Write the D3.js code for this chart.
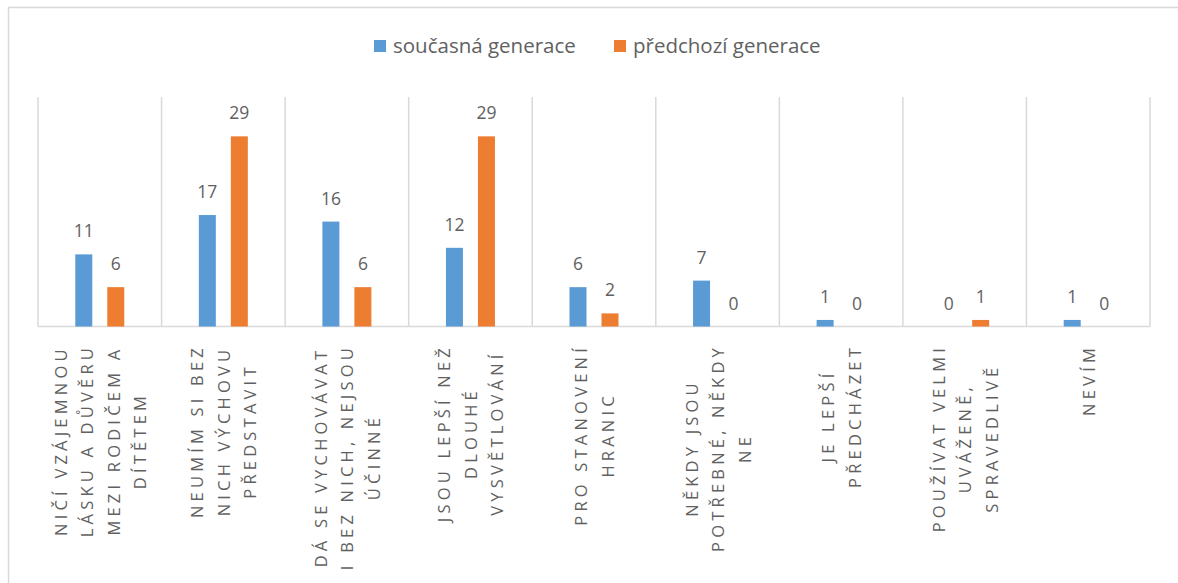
<!DOCTYPE html>
<html>
<head>
<meta charset="utf-8">
<script src="https://cdn.jsdelivr.net/npm/d3@7"></script>
<style>
  body { margin: 0; background: #fff; }
  svg { display: block; }
</style>
</head>
<body>
<div id="container"></div>
<script>
/* DATA */
const categories = ["c1", "c2", "c3", "c4", "c5", "c6", "c7", "c8", "c9"];
const categoryLines = [
  ["NIČÍ VZÁJEMNOU", "LÁSKU A DŮVĚRU", "MEZI RODIČEM A", "DÍTĚTEM"],
  ["NEUMÍM SI BEZ", "NICH VÝCHOVU", "PŘEDSTAVIT"],
  ["DÁ SE VYCHOVÁVAT", "I BEZ NICH, NEJSOU", "ÚČINNÉ"],
  ["JSOU LEPŠÍ NEŽ", "DLOUHÉ", "VYSVĚTLOVÁNÍ"],
  ["PRO STANOVENÍ", "HRANIC"],
  ["NĚKDY JSOU", "POTŘEBNÉ, NĚKDY", "NE"],
  ["JE LEPŠÍ", "PŘEDCHÁZET"],
  ["POUŽÍVAT VELMI", "UVÁŽENĚ,", "SPRAVEDLIVĚ"],
  ["NEVÍM"]
];
const seriesNames = ["současná generace", "předchozí generace"];
const currentGen = [11, 17, 16, 12, 6, 7, 1, 0, 1];
const previousGen = [6, 29, 6, 29, 2, 0, 0, 1, 0];
const seriesColors = ["#5B9BD5", "#ED7D31"];

/* CONSTANTS */
const width = 1178,
  height = 583,
  plot = { left: 38, right: 1150, top: 97, bottom: 326.5 },
  textColor = "#616161",
  gridColor = "#d9d9d9",
  font = "'Open Sans', 'Noto Sans', sans-serif";

const svg = d3.select("#container")
  .append("svg")
  .attr("width", width)
  .attr("height", height)
  .style("background-color", "#fff");

// outer chart border (runs off the right and bottom edge)
svg.append("rect")
  .attr("x", 8.5).attr("y", 7.5)
  .attr("width", 1300).attr("height", 700)
  .attr("fill", "none")
  .attr("stroke", gridColor)
  .attr("stroke-width", 1.5);

/* SCALES */
const xScale = d3.scaleBand()
  .domain(categories)
  .range([plot.left, plot.right])
  .padding(0);

const bw = xScale.bandwidth();
const xSub = d3.scaleBand()
  .domain(seriesNames)
  .range([bw / 2 - 24.5, bw / 2 + 24.5])
  .paddingInner(0.469)
  .paddingOuter(0);

const yScale = d3.scaleLinear()
  .domain([0, 35])
  .range([plot.bottom, plot.top]);

const colorScale = d3.scaleOrdinal()
  .domain(seriesNames)
  .range(seriesColors);

/* GRID */
const bounds = categories.map(c => xScale(c)).concat([plot.right]);
svg.append("g")
  .selectAll("line")
  .data(bounds)
  .join("line")
  .attr("x1", d => d).attr("x2", d => d)
  .attr("y1", plot.top).attr("y2", plot.bottom)
  .attr("stroke", gridColor)
  .attr("stroke-width", 1.5);

svg.append("line")
  .attr("x1", plot.left).attr("x2", plot.right)
  .attr("y1", plot.bottom).attr("y2", plot.bottom)
  .attr("stroke", gridColor)
  .attr("stroke-width", 1.5);

/* BARS */
const rows = [];
categories.forEach((c, i) => {
  rows.push({ cat: c, series: seriesNames[0], value: currentGen[i] });
  rows.push({ cat: c, series: seriesNames[1], value: previousGen[i] });
});

svg.append("g")
  .selectAll("rect")
  .data(rows)
  .join("rect")
  .attr("x", d => xScale(d.cat) + xSub(d.series))
  .attr("y", d => yScale(d.value))
  .attr("width", xSub.bandwidth())
  .attr("height", d => yScale(0) - yScale(d.value))
  .attr("fill", d => colorScale(d.series));

svg.append("g")
  .selectAll("text")
  .data(rows)
  .join("text")
  .attr("x", d => xScale(d.cat) + xSub(d.series) + xSub.bandwidth() / 2)
  .attr("y", d => yScale(d.value) - 17)
  .attr("text-anchor", "middle")
  .attr("font-family", font)
  .attr("font-size", 17.5)
  .attr("fill", textColor)
  .text(d => d.value);

/* CATEGORY LABELS */
const lineGap = 26.5;
const labelTop = 344;
const labels = svg.append("g")
  .selectAll("g")
  .data(categories)
  .join("g")
  .attr("transform", d => `translate(${xScale(d) + bw / 2},${labelTop}) rotate(-90)`);

labels.each(function (d, i) {
  const g = d3.select(this);
  const lines = categoryLines[i];
  const n = lines.length;
  const texts = g.selectAll("text")
    .data(lines)
    .join("text")
    .attr("y", (l, j) => (j - (n - 1) / 2) * lineGap)
    .attr("dominant-baseline", "central")
    .attr("text-anchor", "middle")
    .attr("font-family", font)
    .attr("font-size", 16.5)
    .attr("letter-spacing", "4.2px")
    .attr("fill", textColor)
    .text(l => l);
  const longest = d3.max(texts.nodes(), t => t.getComputedTextLength());
  texts.attr("x", -longest / 2);
});

/* LEGEND */
const legendItems = [
  { name: seriesNames[0], sx: 374, tx: 393 },
  { name: seriesNames[1], sx: 614, tx: 633 }
];
const legend = svg.append("g");
legend.selectAll("rect")
  .data(legendItems)
  .join("rect")
  .attr("x", d => d.sx).attr("y", 40)
  .attr("width", 12).attr("height", 12)
  .attr("fill", d => colorScale(d.name));
legend.selectAll("text")
  .data(legendItems)
  .join("text")
  .attr("x", d => d.tx).attr("y", 52.5)
  .attr("font-family", font)
  .attr("font-size", 20.5)
  .attr("fill", textColor)
  .text(d => d.name);
</script>
</body>
</html>
